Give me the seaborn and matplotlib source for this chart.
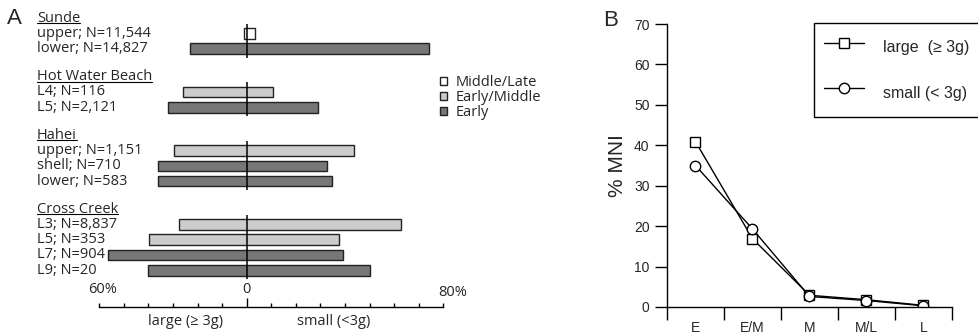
import matplotlib
matplotlib.use('Agg')
import matplotlib.pyplot as plt
from matplotlib.lines import Line2D
from matplotlib.patches import Patch
import numpy as np
import pandas as pd
import seaborn as sns

# ---- panel A data: % large (>=3g) on the left, % small (<3g) on the right
sites = ['Sunde', 'Hot Water Beach', 'Hahei', 'Cross Creek']
layers = [
    ['upper; N=11,544', 'lower; N=14,827'],
    ['L4; N=116', 'L5; N=2,121'],
    ['upper; N=1,151', 'shell; N=710', 'lower; N=583'],
    ['L3; N=8,837', 'L5; N=353', 'L7; N=904', 'L9; N=20'],
]
large_pct = [[1.0, 23.0], [26.0, 32.0], [29.7, 36.0, 36.0], [27.5, 39.8, 56.3, 40.0]]
small_pct = [[3.5, 74.0], [10.8, 29.0], [43.7, 32.5, 34.8], [62.7, 37.4, 39.0, 50.0]]
phase = [['Middle/Late', 'Early'], ['Early/Middle', 'Early'],
         ['Early/Middle', 'Early', 'Early'],
         ['Early/Middle', 'Early/Middle', 'Early', 'Early']]
phase_colors = {'Middle/Late': 'white', 'Early/Middle': '#cccccc', 'Early': '#777777'}

# ---- panel B data: % MNI by stage
stages = ['E', 'E/M', 'M', 'M/L', 'L']
mni_large = [40.9, 16.9, 2.9, 1.8, 0.4]
mni_small = [35.0, 19.3, 2.6, 1.6, 0.3]

sns.set_theme(style='white')
plt.rcParams['font.family'] = ['Open Sans', 'DejaVu Sans']
helv = ['Liberation Sans', 'DejaVu Sans']
fs_a = 10.5

W, H = 979, 333
fig = plt.figure(figsize=(W / 100, H / 100), dpi=100)

# ------------------------------------------------------------------ panel A
axA = fig.add_axes([0, 26 / H, 540 / W, 1 - 26 / H])
ppu = 2.457  # pixels per percent
axA.set_xlim(-246.7 / ppu, (540 - 246.7) / ppu)
axA.set_ylim(18.89, -1.18)

label_x = (37 - 246.7) / ppu
row = 0.0
headings = []
for g, site in enumerate(sites):
    headings.append(axA.text(label_x, row, site, fontsize=fs_a, va='center', ha='left'))
    first = row + 1
    for k, lab in enumerate(layers[g]):
        row += 1
        axA.text(label_x, row, lab, fontsize=fs_a, va='center', ha='left')
        axA.barh(row, large_pct[g][k] + small_pct[g][k], left=-large_pct[g][k],
                 height=0.69, color=phase_colors[phase[g][k]],
                 edgecolor='#222222', linewidth=1.0)
    axA.vlines(0, first - 0.62, row + 0.6, color='black', linewidth=1.1, zorder=5)
    row += 1.83

for s in ['top', 'right', 'left']:
    axA.spines[s].set_visible(False)
axA.spines['bottom'].set_bounds(-60, 80)
axA.spines['bottom'].set_color('black')
axA.spines['bottom'].set_linewidth(1.0)
axA.set_yticks([])
axA.set_xticks([0])
axA.set_xticks([t for t in range(-60, 81, 10) if t != 0], minor=True)
axA.tick_params(axis='x', which='major', direction='in', length=6.5, width=1.0,
                color='black', labelbottom=False, bottom=True)
axA.tick_params(axis='x', which='minor', direction='in', length=3.2, width=1.0,
                color='black', bottom=True)
axA.text(-58.5, 17.75, '60%', fontsize=fs_a, ha='center', va='center')
axA.text(0, 17.75, '0', fontsize=fs_a, ha='center', va='center')
axA.text(84, 17.95, '80%', fontsize=fs_a, ha='center', va='center')
axA.text(-25, 19.85, 'large (≥ 3g)', fontsize=fs_a, ha='center', va='center', clip_on=False)
axA.text(35.6, 19.85, 'small (<3g)', fontsize=fs_a, ha='center', va='center', clip_on=False)

handles = [Patch(facecolor=phase_colors[p], edgecolor='#222222', linewidth=1.0, label=p)
           for p in ['Middle/Late', 'Early/Middle', 'Early']]
axA.legend(handles=handles, loc='upper left', bbox_to_anchor=(440 / W, 1 - 75 / H),
           bbox_transform=fig.transFigure, frameon=False, fontsize=fs_a,
           handlelength=0.5, handleheight=0.5, handletextpad=0.6,
           labelspacing=0.0, borderpad=0, borderaxespad=0)

fig.text(7 / W, 1 - 18 / H, 'A', fontsize=16, va='center', ha='left', family=helv)

# ------------------------------------------------------------------ panel B
df = pd.DataFrame({
    'stage': stages * 2,
    'pct': mni_large + mni_small,
    'size': ['large'] * len(stages) + ['small'] * len(stages),
})
axB = fig.add_axes([667 / W, 26 / H, 285 / W, (307 - 24) / H])
sns.lineplot(data=df, x='stage', y='pct', style='size', markers=['s', 'o'],
             dashes=False, color='black', linewidth=1.0, markersize=7.5,
             markerfacecolor='white', markeredgecolor='black',
             markeredgewidth=1.0, sort=False, legend=False, ax=axB)
axB.set_xlim(-0.5, 4.5)
axB.set_ylim(0, 70)
for s in ['top', 'right']:
    axB.spines[s].set_visible(False)
for s in ['left', 'bottom']:
    axB.spines[s].set_color('black')
    axB.spines[s].set_linewidth(1.0)
axB.set_yticks(range(0, 71, 10))
axB.set_xticks(range(len(stages)), stages)
axB.set_xticks(np.arange(-0.5, len(stages)), minor=True)
axB.tick_params(axis='y', direction='out', length=8.6, width=1.0, color='black',
                left=True, labelsize=10, pad=4)
axB.tick_params(axis='x', which='major', length=0, labelsize=10, pad=10)
axB.tick_params(axis='x', which='minor', direction='out', length=9.4, width=1.0,
                color='black', bottom=True)
for t in axB.get_xticklabels() + axB.get_yticklabels():
    t.set_family(helv)
axB.set_xlabel('')
axB.set_ylabel('% MNI', fontsize=15, family=helv, labelpad=5)

leg_handles = [
    Line2D([], [], color='black', lw=1.0, marker='s', markersize=7.5,
           markerfacecolor='white', markeredgecolor='black', label='large  (≥ 3g)'),
    Line2D([], [], color='black', lw=1.0, marker='o', markersize=7.5,
           markerfacecolor='white', markeredgecolor='black', label='small (< 3g)'),
]
legB = axB.legend(handles=leg_handles, loc='upper left',
                  bbox_to_anchor=(814 / W, 1 - 23 / H), bbox_transform=fig.transFigure,
                  prop={'family': helv, 'size': 11.5},
                  handlelength=2.45, handleheight=2.3, handletextpad=1.25,
                  labelspacing=1.1, borderpad=0.65, borderaxespad=0,
                  fancybox=False, framealpha=1)
legB.get_frame().set_edgecolor('black')
legB.get_frame().set_linewidth(1.0)

fig.text(603 / W, 1 - 20 / H, 'B', fontsize=16, va='center', ha='left', family=helv)

# underline the site headings
fig.canvas.draw()
r = fig.canvas.get_renderer()
for t in headings:
    bb = t.get_window_extent(r)
    y = bb.y0 + 2.5
    fig.add_artist(Line2D([bb.x0 / W, bb.x1 / W], [y / H, y / H],
                          transform=fig.transFigure, color='black', lw=0.8))

fig.savefig('out.png', dpi=100)
